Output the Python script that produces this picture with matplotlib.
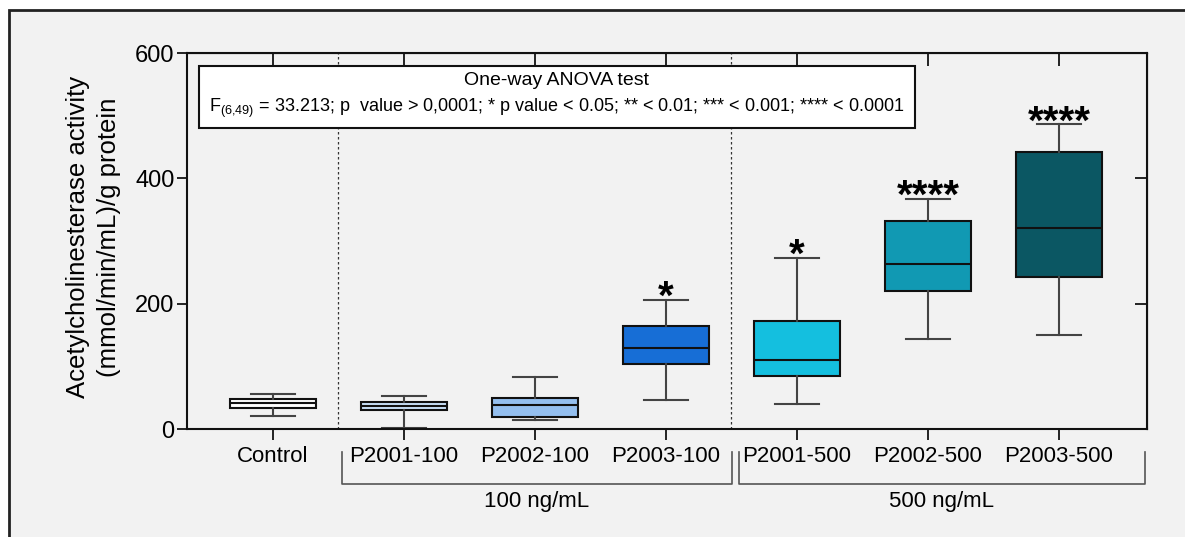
import matplotlib
matplotlib.use("Agg")
import matplotlib.pyplot as plt
import matplotlib.transforms as mtransforms
from matplotlib.patches import Rectangle

plt.rcParams['font.family'] = ['Liberation Sans', 'DejaVu Sans']
plt.rcParams['mathtext.fontset'] = 'custom'
plt.rcParams['mathtext.rm'] = 'Liberation Sans'
plt.rcParams['mathtext.it'] = 'Liberation Sans'

# Datos (estadísticos de cada caja)
groups = ["Control", "P2001-100", "P2002-100", "P2003-100",
          "P2001-500", "P2002-500", "P2003-500"]
whislo = [20, 1, 14, 46, 40, 143, 150]
q1 = [34, 31, 19, 103, 85, 221, 242]
med = [41, 37, 39, 130, 110, 263, 320]
q3 = [48, 43, 49, 164, 173, 332, 442]
whishi = [56, 52, 83, 206, 273, 367, 486]
stars = ["", "", "", "*", "*", "****", "****"]
box_colors = ["#ffffff", "#c9e0f8", "#94bfef", "#176ed6",
              "#14bfdf", "#1199b3", "#0b5763"]
yticks = [0, 200, 400, 600]

fig = plt.figure(figsize=(11.85, 5.37), dpi=100)
fig.patch.set_facecolor("white")
# marco exterior gris
fig.patches.append(Rectangle((9 / 1185, -0.05), 1.1, 1 - 10 / 537 + 0.05,
                             transform=fig.transFigure, facecolor="#f2f2f2",
                             edgecolor="#222222", linewidth=2, zorder=-10))

ax = fig.add_axes([187 / 1185, 108 / 537, 960 / 1185, 376 / 537])
ax.set_facecolor("#f2f2f2")

stats = []
for i, g in enumerate(groups):
    stats.append(dict(label=g, whislo=whislo[i], q1=q1[i], med=med[i],
                      q3=q3[i], whishi=whishi[i], fliers=[]))

pos = list(range(len(groups)))
bp = ax.bxp(stats, positions=pos, widths=0.66, patch_artist=True,
            showfliers=False,
            boxprops=dict(linewidth=1.5, edgecolor="#111111"),
            medianprops=dict(color="#111111", linewidth=1.5),
            whiskerprops=dict(color="#444444", linewidth=1.5),
            capprops=dict(color="#444444", linewidth=1.5),
            capwidths=0.33)
for patch, c in zip(bp["boxes"], box_colors):
    patch.set_facecolor(c)

# asteriscos de significancia
for i, s in enumerate(stars):
    if s:
        ax.annotate(s, (pos[i], whishi[i]), xytext=(0, -6.5),
                    textcoords="offset points", ha="center", va="baseline",
                    fontsize=29, fontweight="bold", color="black")

# separadores punteados
for xs in [0.5, 3.5]:
    ax.axvline(xs, color="#333333", linestyle=(0, (2, 2)), linewidth=0.9)

ax.set_xlim(-0.656, 6.672)
ax.set_ylim(0, 600)
ax.set_yticks(yticks)
ax.set_xticks(pos)
ax.set_xticklabels(groups, fontsize=16)
ax.tick_params(axis="y", labelsize=17, length=7, width=1.2, direction="out",
               pad=2)
ax.tick_params(axis="x", length=8, width=1.2, direction="out", pad=4)
for sp in ax.spines.values():
    sp.set_linewidth(1.5)
    sp.set_color("#111111")

# ticks en los bordes superior y derecho (hacia dentro)
axt = ax.secondary_xaxis("top")
axt.set_xticks(pos)
axt.set_xticklabels([])
axt.tick_params(direction="in", length=9, width=1.2)
axr = ax.secondary_yaxis("right")
axr.set_yticks([200, 400])
axr.set_yticklabels([])
axr.tick_params(direction="in", length=9, width=1.2)

ax.set_ylabel("Acetylcholinesterase activity\n(mmol/min/mL)/g protein",
              fontsize=18.5, linespacing=1.35)
ax.yaxis.set_label_coords(-0.069, 0.51)

# corchetes de grupo
trans = mtransforms.blended_transform_factory(ax.transData, ax.transAxes)
brackets = [(0.527, 3.504, "100 ng/mL"), (3.557, 6.656, "500 ng/mL")]
for x0, x1, lab in brackets:
    ax.plot([x0, x0, x1, x1], [-0.061, -0.146, -0.146, -0.061], transform=trans,
            color="#555555", linewidth=1.2, clip_on=False)
    ax.text((x0 + x1) / 2, -0.194, lab, transform=trans, ha="center",
            va="center", fontsize=16)

# recuadro ANOVA
ax.add_patch(Rectangle((0.0125, 0.80), 0.7455, 0.165, transform=ax.transAxes,
                       facecolor="white", edgecolor="#111111", linewidth=1.5,
                       zorder=5))
ax.text(0.385, 0.926, "One-way ANOVA test", transform=ax.transAxes,
        ha="center", va="center", fontsize=14, zorder=6)
ax.text(0.385, 0.852,
        r"F$_{(6{,}49)}$ = 33.213; p  value > 0,0001; * p value < 0.05; "
        r"** < 0.01; *** < 0.001; **** < 0.0001",
        transform=ax.transAxes, ha="center", va="center", fontsize=13.0,
        zorder=6)

fig.savefig("out.png", dpi=100)
